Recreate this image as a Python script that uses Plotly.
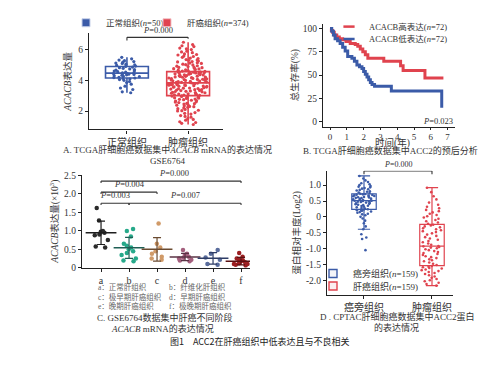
import numpy as np
import plotly.graph_objects as go

# ---------------- Panel A data ----------------
a_groups = ["正常组织", "肿瘤组织"]
a_normal = [3.19, 3.25, 3.4, 3.5, 3.62, 3.75, 3.85, 3.92, 4.0, 4.05, 4.08, 4.12,
            4.15, 4.18, 4.2, 4.24, 4.27, 4.3, 4.33, 4.36, 4.38, 4.4, 4.42, 4.44, 4.46,
            4.48, 4.5, 4.53, 4.56, 4.6, 4.63, 4.66, 4.7, 4.74, 4.78, 4.82, 4.86,
            4.9, 4.93, 4.97, 5.0, 5.05, 5.1, 5.12, 5.18, 5.22, 5.28, 5.32, 5.4, 5.5]
a_tumor = [1.12, 1.2, 1.3, 1.4, 1.5, 1.6, 1.7, 1.8, 1.9, 2.0, 2.05, 2.1, 2.2, 2.25, 2.3,
           2.35, 2.4, 2.45, 2.5, 2.55, 2.6, 2.65, 2.7, 2.74, 2.78, 2.82, 2.86, 2.9, 2.95, 2.99,
           1.25, 1.45, 1.65, 1.85, 2.02, 2.15, 2.28, 2.38, 2.48, 2.58, 2.68, 2.76, 2.84, 2.92, 2.97,
           3.02, 3.05, 3.08, 3.1, 3.13, 3.16, 3.19, 3.22, 3.25, 3.28, 3.31, 3.34, 3.37, 3.4,
           3.43, 3.46, 3.49, 3.52, 3.55, 3.58, 3.6, 3.62, 3.65, 3.68, 3.7, 3.72, 3.75, 3.77,
           3.8, 3.82,
           3.04, 3.12, 3.2, 3.27, 3.33, 3.39, 3.45, 3.5, 3.56, 3.63, 3.67, 3.71, 3.74, 3.79, 3.81,
           3.85, 3.87, 3.9, 3.92, 3.95, 3.97, 4.0, 4.02, 4.05, 4.07, 4.1, 4.12,
           4.15, 4.17, 4.2, 4.22, 4.25, 4.27, 4.3, 4.32, 4.35, 4.37, 4.4, 4.42, 4.44, 4.46,
           4.48, 4.5, 4.52, 4.55,
           3.86, 3.93, 3.99, 4.06, 4.11, 4.16, 4.21, 4.26, 4.31, 4.36, 4.41, 4.45, 4.49, 4.53, 4.54,
           4.58, 4.62, 4.66, 4.7, 4.74, 4.78, 4.82, 4.86, 4.9, 4.95,
           5.0, 5.05, 5.1, 5.15, 5.2, 5.25, 5.3, 5.35, 5.42, 5.5, 5.58, 5.65, 5.72, 5.8,
           5.9, 6.0, 6.1, 6.2, 6.33, 6.48,
           4.6, 4.68, 4.76, 4.84, 4.92, 5.02, 5.12, 5.22, 5.32, 5.45, 5.55, 5.68, 5.85, 6.05, 6.25]
a_legend = ["正常组织(<i>n</i>=50)", "肝癌组织(<i>n</i>=374)"]
a_ticks = [2, 4, 6]

# ---------------- Panel B data ----------------
km_high_t = [0, 0.08, 0.15, 0.25, 0.4, 0.55, 0.75, 0.95, 1.2, 1.5, 1.65, 1.8, 1.95, 2.1,
             2.25, 3.2, 4.2, 4.35, 5.65, 6.75]
km_high_s = [100, 98, 96, 93, 91, 89, 88, 86, 84, 83, 81, 78, 75, 72, 68, 65, 60, 55, 47, 47]
km_low_t = [0, 0.1, 0.2, 0.3, 0.45, 0.6, 0.75, 0.9, 1.05, 1.3, 1.45, 1.6, 1.75, 1.9, 2.0,
            2.1, 2.2, 2.3, 2.4, 2.5, 2.65, 3.65, 6.65]
km_low_s = [100, 97, 93, 89, 87, 84, 80, 76, 70, 68, 65, 61, 59, 57, 54, 51, 48, 45, 42,
            40, 38, 33, 15]
km_names = ["ACACB高表达(<i>n</i>=72)", "ACACB低表达(<i>n</i>=72)"]
b_xticks = [0, 1, 2, 3, 4, 5, 6, 7]
b_yticks = [0, 25, 50, 75, 100]

# ---------------- Panel C data ----------------
c_labels = ["a", "b", "c", "d", "e", "f"]
c_a = [1.62, 1.28, 1.0, 0.98, 0.95, 0.9, 0.88, 0.75, 0.58, 0.55]
c_b = [1.05, 1.0, 0.85, 0.65, 0.6, 0.55, 0.5, 0.45, 0.4, 0.35, 0.25, 0.2, 0.18]
c_c = [1.2, 0.65, 0.55, 0.45, 0.38, 0.3, 0.25, 0.22]
c_d = [0.48, 0.38, 0.35, 0.3, 0.27, 0.25, 0.22, 0.2, 0.18]
c_e = [0.48, 0.38, 0.28, 0.22, 0.1, 0.08]
c_f = [0.4, 0.3, 0.25, 0.22, 0.2, 0.18, 0.15, 0.12, 0.1, 0.1, 0.08, 0.06]
c_yticks = [0, 0.5, 1.0, 1.5, 2.0, 2.5]
c_yticktext = ["0", "0.5", "1.0", "1.5", "2.0", "2.5"]
c_key = [("a：正常肝组织", "b：纤维化肝组织"),
         ("c：极早期肝癌组织", "d：早期肝癌组织"),
         ("e：晚期肝癌组织", "f：极晚期肝癌组织")]

# ---------------- Panel D data ----------------
d_groups = ["癌旁组织", "肿瘤组织"]
d_adjacent = [-1.05, -0.7, -0.65, -0.55, -0.39, -0.3, -0.2, -0.12, -0.05, 0.0, 0.05, 0.08,
              0.1, 0.13, 0.15, 0.17, 0.19, 0.21, 0.22, 0.23,
              0.24, 0.26, 0.28, 0.3, 0.32, 0.34, 0.35, 0.37, 0.38, 0.4, 0.41, 0.43, 0.44,
              0.45, 0.47, 0.48, 0.49, 0.5, 0.51, 0.51,
              0.52, 0.53, 0.54, 0.55, 0.57, 0.58, 0.59, 0.6, 0.61, 0.62, 0.63, 0.64, 0.65,
              0.66, 0.67, 0.68, 0.69, 0.7, 0.71, 0.72,
              0.73, 0.75, 0.77, 0.79, 0.81, 0.83, 0.85, 0.87, 0.89, 0.91, 0.93, 0.95, 0.97,
              1.0, 1.03, 1.06, 1.1, 1.15, 1.21, 1.29]
d_tumor = [-2.17, -2.12, -2.08, -2.03, -2.0, -1.96, -1.92, -1.88, -1.84, -1.8, -1.77, -1.74,
           -1.71, -1.68, -1.66, -1.63, -1.61, -1.59, -1.57, -1.55,
           -1.52, -1.48, -1.44, -1.4, -1.37, -1.34, -1.3, -1.27, -1.24, -1.2, -1.17, -1.14,
           -1.11, -1.08, -1.05, -1.02, -0.99, -0.97, -0.95, -0.93,
           -0.92, -0.88, -0.84, -0.8, -0.76, -0.72, -0.68, -0.64, -0.6, -0.56, -0.52, -0.48,
           -0.45, -0.42, -0.39, -0.36, -0.33, -0.3, -0.27, -0.25,
           -0.22, -0.18, -0.14, -0.1, -0.06, -0.02, 0.02, 0.06, 0.1, 0.14, 0.18, 0.22, 0.27,
           0.32, 0.38, 0.45, 0.55, 0.65, 0.78, 0.92]
d_legend = ["癌旁组织(<i>n</i>=159)", "肝癌组织(<i>n</i>=159)"]
d_yticks = [-2.0, -1.5, -1.0, -0.5, 0, 0.5, 1.0]
d_yticktext = ["-2.0", "-1.5", "-1.0", "-0.5", "0", "0.5", "1.0"]

# ---------------- styling ----------------
# the page body adds an 8px margin, so the figure is 8px smaller and shifted
OFF = 8
W, H = 500 - OFF, 366 - OFF
SERIF = "Liberation Serif, Noto Sans CJK SC, serif"
SANS = "Noto Sans CJK SC, sans-serif"
TXT = "#333333"
BLUE = "#3b5ba8"
RED = "#e0434e"
c_colors = ["#2b2b2b", "#27a98a", "#d09a68", "#a4607e", "#596c9c", "#9c1f22"]
c_line_colors = ["#1e1e1e", "#1f5f55", "#6a4a30", "#5a3345", "#2e3d66", "#5a1012"]


def px(xp):
    return (xp - OFF) / W


def py(yp):
    return 1 - (yp - OFF) / H


fig = go.Figure()

# Panel A boxes
for grp, vals, col, jit in [(a_groups[0], a_normal, BLUE, 0.75),
                            (a_groups[1], a_tumor, RED, 0.95)]:
    fig.add_trace(go.Box(
        x=[grp] * len(vals), y=vals, name=grp, xaxis="x", yaxis="y", legendgroup=grp,
        boxpoints="all", jitter=jit, pointpos=0, width=0.7, whiskerwidth=0,
        marker=dict(color=col, size=3.2), line=dict(color=col, width=1.6),
        fillcolor="rgba(255,255,255,0.15)", showlegend=False, hoverinfo="y"))
for grp, col, name, lg in [(a_groups[0], BLUE, a_legend[0], "legend"),
                           (a_groups[1], RED, a_legend[1], "legend2")]:
    fig.add_trace(go.Scatter(
        x=[None], y=[None], mode="markers", name=name, legendgroup=grp, legend=lg,
        xaxis="x", yaxis="y",
        marker=dict(symbol="square", size=8, color=col,
                    line=dict(color="#c8d2ea" if col == BLUE else "#f3c4c8", width=1))))

# Panel B KM curves
for t, s, col, name, lg in [(km_high_t, km_high_s, RED, km_names[0], "legend3"),
                            (km_low_t, km_low_s, BLUE, km_names[1], "legend4")]:
    fig.add_trace(go.Scatter(
        x=t, y=s, mode="lines", line=dict(color=col, width=3, shape="hv"),
        name=name, legendgroup=name, xaxis="x2", yaxis="y2", showlegend=False))
    fig.add_trace(go.Scatter(
        x=[None], y=[None], mode="markers", name=name, legendgroup=name, legend=lg,
        xaxis="x2", yaxis="y2",
        marker=dict(symbol="line-ew", size=8, color=col, line=dict(color=col, width=2.5))))

# Panel C dot plot
c_series = [c_a, c_b, c_c, c_d, c_e, c_f]
for lab, vals, col, lcol in zip(c_labels, c_series, c_colors, c_line_colors):
    fig.add_trace(go.Box(
        x=[lab] * len(vals), y=vals, xaxis="x3", yaxis="y3",
        boxpoints="all", jitter=0.9, pointpos=0, width=0.7,
        marker=dict(color=col, size=4.5), line=dict(color="rgba(0,0,0,0)", width=0),
        fillcolor="rgba(0,0,0,0)", showlegend=False, hoveron="points"))
    mean = float(np.mean(vals))
    sd = float(np.std(vals, ddof=1))
    fig.add_trace(go.Scatter(
        x=[lab], y=[mean], mode="markers", xaxis="x3", yaxis="y3", showlegend=False,
        marker=dict(symbol="line-ew", size=22, color=lcol, line=dict(color=lcol, width=1.5)),
        error_y=dict(type="data", array=[sd], visible=True, width=4, thickness=1.2, color=lcol)))

# Panel D boxes
for grp, vals, col in [(d_groups[0], d_adjacent, BLUE), (d_groups[1], d_tumor, RED)]:
    fig.add_trace(go.Box(
        x=[grp] * len(vals), y=vals, name=grp, legendgroup="D" + grp, xaxis="x4", yaxis="y4",
        boxpoints="all", jitter=0.9, pointpos=0, width=0.36, whiskerwidth=0.5,
        marker=dict(color=col, size=2.6), line=dict(color=col, width=1.2),
        fillcolor="rgba(255,255,255,0.2)", showlegend=False, hoverinfo="y"))
for grp, col, name, lg in [(d_groups[0], BLUE, d_legend[0], "legend5"),
                           (d_groups[1], RED, d_legend[1], "legend6")]:
    fig.add_trace(go.Scatter(
        x=[None], y=[None], mode="markers", name=name, legendgroup="D" + grp, legend=lg,
        xaxis="x4", yaxis="y4",
        marker=dict(symbol="square", size=8, color="#f4f4f8" if col == BLUE else "#fbeef0",
                    line=dict(color=col, width=1.4))))

axis_common = dict(showline=True, linecolor="#222222", linewidth=1.3, ticks="outside",
                   ticklen=3, tickcolor="#222222", showgrid=False, zeroline=False,
                   tickfont=dict(family=SERIF, size=9.5, color=TXT))
cat_tick = dict(family=SERIF, size=10, color=TXT)
title_font = dict(family=SERIF, size=9.5, color=TXT)


def leg(xp, yp, size=9):
    return dict(x=px(xp), y=py(yp), xanchor="left", yanchor="middle",
                font=dict(family=SERIF, size=size, color=TXT), bgcolor="rgba(0,0,0,0)",
                itemwidth=30, tracegroupgap=0, borderwidth=0)


fig.update_layout(
    width=W, height=H, margin=dict(l=0, r=0, t=0, b=0),
    paper_bgcolor="white", plot_bgcolor="white", boxmode="overlay",
    font=dict(family=SERIF, size=9, color=TXT),
    # Panel A
    xaxis=dict(domain=[px(89), px(223)], range=[-0.62, 1.57], anchor="y",
               categoryorder="array", categoryarray=a_groups,
               **{**axis_common, "tickfont": cat_tick}),
    yaxis=dict(domain=[py(125), py(25)], range=[0.8, 7.06], anchor="x",
               tickvals=a_ticks, title=dict(text="<i>ACACB</i>表达量", font=title_font, standoff=4),
               **axis_common),
    # Panel B
    xaxis2=dict(domain=[px(323), px(455)], range=[-0.42, 7.44], anchor="y2",
                tickvals=b_xticks,
                **{**axis_common, "ticklen": 2, "tickfont": dict(family=SERIF, size=9, color=TXT)}),
    yaxis2=dict(domain=[py(122), py(15)], range=[-5.15, 105.15], anchor="x2",
                tickvals=b_yticks, title=dict(text="总生存率(%)", font=title_font, standoff=2),
                **axis_common),
    # Panel C
    xaxis3=dict(domain=[px(82), px(250)], range=[-0.68, 5.32], anchor="y3",
                categoryorder="array", categoryarray=c_labels,
                **{**axis_common, "tickfont": cat_tick}),
    yaxis3=dict(domain=[py(269), py(172)], range=[0, 2.526], anchor="x3",
                tickvals=c_yticks, ticktext=c_yticktext,
                title=dict(text="<i>ACACB</i>表达量(×10<sup>3</sup>)", font=title_font, standoff=3),
                **axis_common),
    # Panel D
    xaxis4=dict(domain=[px(327), px(453)], range=[-0.544, 1.309], anchor="y4",
                categoryorder="array", categoryarray=d_groups,
                **{**axis_common, "tickfont": cat_tick}),
    yaxis4=dict(domain=[py(297), py(168)], range=[-2.4545, 1.4545], anchor="x4",
                tickvals=d_yticks, ticktext=d_yticktext,
                title=dict(text="蛋白相对丰度(Log2)", font=title_font, standoff=3),
                **axis_common),
    legend=leg(66, 14, 8.5),
    legend2=leg(147, 14, 8.5),
    legend3=leg(329, 18, 8.5),
    legend4=leg(329, 31, 8.5),
    legend5=leg(313, 275),
    legend6=leg(313, 288),
)


def bracket(xref, yref, x0, x1, y, drop0, drop1, color="#333333"):
    for (a, b, c, d) in [(x0, y, x1, y), (x0, y, x0, y - drop0), (x1, y, x1, y - drop1)]:
        fig.add_shape(type="line", xref=xref, yref=yref, x0=a, y0=b, x1=c, y1=d,
                      line=dict(color=color, width=1.1))


def note(text, x, y, xref="paper", yref="paper", size=8.5, xanchor="center",
         yanchor="middle", family=SERIF, color=TXT):
    fig.add_annotation(text=text, x=x, y=y, xref=xref, yref=yref, showarrow=False,
                       xanchor=xanchor, yanchor=yanchor,
                       font=dict(family=family, size=size, color=color))


# Panel A significance
bracket("x", "y", 0, 1, 6.8, 0.2, 0.1)
note("<i>P</i>=0.000", 0.5, 6.82, "x", "y", yanchor="bottom")

# Panel B texts
note("<i>P</i>=0.023", px(455), py(116), xanchor="right")
note("时间(年)", px(392), py(139), size=9.5)

# Panel C
note("GSE6764", px(168), py(158), size=9)
bracket("x3", "y3", 0, 5, 2.35, 0.05, 0.05)
note("<i>P</i>=0.000", 2.6, 2.37, "x3", "y3", yanchor="bottom")
bracket("x3", "y3", 0, 2, 2.05, 0.05, 0.05)
note("<i>P</i>=0.004", 1.0, 2.07, "x3", "y3", yanchor="bottom")
bracket("x3", "y3", 0, 1, 1.75, 0.05, 0.05)
note("<i>P</i>=0.003", 0.5, 1.77, "x3", "y3", yanchor="bottom")
bracket("x3", "y3", 1, 5, 1.75, 0.05, 0.05)
note("<i>P</i>=0.007", 3.0, 1.77, "x3", "y3", yanchor="bottom")
for i, (left, right) in enumerate(c_key):
    yy = py(289 + 10 * i)
    note(left, px(96), yy, xanchor="left", size=7.5, color="#666666")
    note(right, px(167), yy, xanchor="left", size=7.5, color="#666666")

# Panel D significance (paper coords: the label sits above the axis range)
bracket("x4", "y4", 0, 1, 1.445, 0.1, 0.1)
note("<i>P</i>=0.000", px(398), py(162), size=8)

# Captions
note("A. TCGA肝细胞癌数据集中<i>ACACB</i> mRNA的表达情况", px(167), py(146), size=9)
note("B. TCGA肝细胞癌数据集中ACC2的预后分析", px(390), py(147), size=9)
note("C. GSE6764数据集中肝癌不同阶段", px(165), py(321), size=9)
note("<i>ACACB</i> mRNA的表达情况", px(162), py(332), size=9)
note("D . CPTAC肝细胞癌数据集中ACC2蛋白", px(397), py(320), size=9)
note("的表达情况", px(396), py(331), size=9)
note("图1　ACC2在肝癌组织中低表达且与不良相关", px(260), py(346), size=9,
     family=SANS, color="#222222")

fig.write_html("out.html")
